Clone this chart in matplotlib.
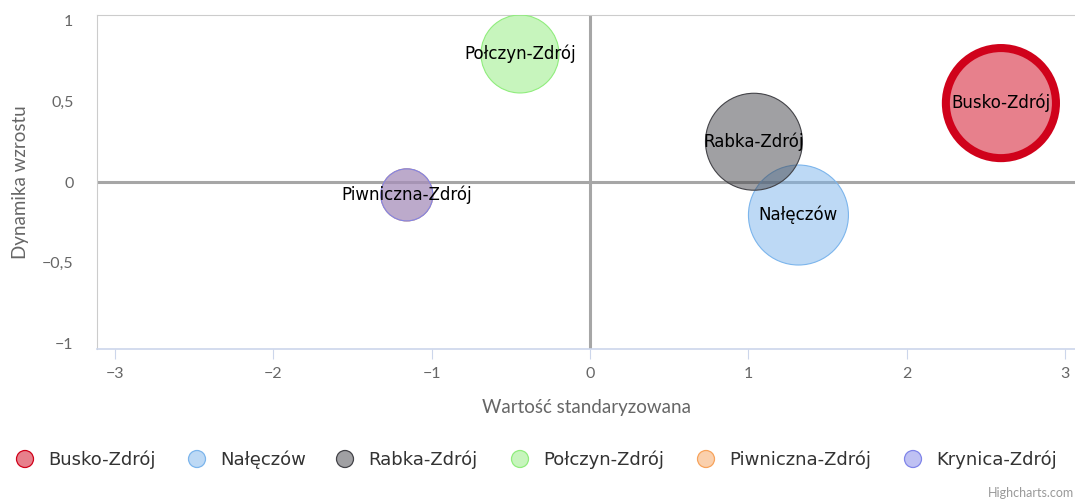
import matplotlib
matplotlib.use("Agg")
import matplotlib.pyplot as plt

# bubble series
names = ["Busko-Zdrój", "Nałęczów", "Rabka-Zdrój", "Połczyn-Zdrój", "Piwniczna-Zdrój", "Krynica-Zdrój"]
x_std = [2.596, 1.317, 1.036, -0.442, -1.157, -1.157]
y_growth = [0.49, -0.205, 0.25, 0.795, -0.08, -0.08]
z_size = [30.3, 25.0, 23.5, 15.2, 6.8, 6.8]
show_label = [True, True, True, True, True, False]

colors = ["#d0021b", "#7cb5ec", "#434348", "#90ed7d", "#f7a35c", "#8085e9"]
edge_w = [5.8, 0.8, 0.8, 0.8, 0.8, 0.8]

x_ticks = [-3, -2, -1, 0, 1, 2, 3]
y_ticks = [-1, -0.5, 0, 0.5, 1]
y_tick_labels = ["\u22121", "\u22120,5", "0", "0,5", "1"]
x_tick_labels = ["\u22123", "\u22122", "\u22121", "0", "1", "2", "3"]

W, H = 1075, 501
fig = plt.figure(figsize=(W / 100, H / 100), dpi=100)
ax = fig.add_axes([97 / W, 1 - 349 / H, (W - 97) / W, (349 - 15) / H])

ax.set_xlim(-3.114, 3.064)
ax.set_ylim(-1.037, 1.037)

# zero lines
ax.axhline(0, color="#a6a6a6", lw=2.2, zorder=1)
ax.axvline(0, color="#a6a6a6", lw=2.2, zorder=1)

px2pt = 0.72
for i in range(len(names)):
    s = (2 * px2pt) ** 2 * z_size[i] * 100
    ax.scatter(x_std[i], y_growth[i], s=s, color=colors[i], alpha=0.5,
               edgecolors="none", zorder=2 + i)
    ax.scatter(x_std[i], y_growth[i], s=s, facecolors="none",
               edgecolors=colors[i], linewidths=edge_w[i], zorder=2 + i)
for i in range(len(names)):
    if show_label[i]:
        ax.text(x_std[i], y_growth[i], names[i], ha="center", va="center",
                fontsize=12, color="black", family="DejaVu Sans", zorder=20)

ax.spines["right"].set_visible(False)
ax.spines["left"].set_color("#cccccc")
ax.spines["top"].set_color("#cccccc")
ax.spines["bottom"].set_color("#ccd6eb")
ax.spines["bottom"].set_linewidth(1.2)

ax.set_xticks(x_ticks)
ax.set_xticklabels(x_tick_labels)
ax.set_yticks(y_ticks)
ax.set_yticklabels(y_tick_labels)
ax.tick_params(axis="x", length=7, width=0.8, color="#ccd6eb", labelcolor="#666666",
               labelsize=11.5, pad=6)
ax.tick_params(axis="y", length=0, labelcolor="#666666", labelsize=11.5, pad=17)
for lab in ax.get_xticklabels() + ax.get_yticklabels():
    lab.set_family("Lato")

ax.set_xlabel("Wartość standaryzowana", fontsize=13.5, color="#666666",
              family="Lato", labelpad=13)
ax.set_ylabel("Dynamika wzrostu", fontsize=13.5, color="#666666",
              family="Lato", labelpad=9)

# legend row
lg = fig.add_axes([0, 0, 1, 1])
lg.set_xlim(0, W)
lg.set_ylim(H, 0)
lg.axis("off")
leg_x = [25, 197, 345, 520, 706, 913]
for i, name in enumerate(names):
    lg.scatter(leg_x[i], 459, s=150, color=colors[i], alpha=0.5, edgecolors="none")
    lg.scatter(leg_x[i], 459, s=150, facecolors="none", edgecolors=colors[i], linewidths=0.9)
    lg.text(leg_x[i] + 23, 460, name, ha="left", va="center", fontsize=13,
            color="#333333", family="DejaVu Sans")

lg.text(W - 1, 493, "Highcharts.com", ha="right", va="center", fontsize=9,
        color="#999999", family="Lato")

fig.savefig("out.png", dpi=100)
plt.close()
